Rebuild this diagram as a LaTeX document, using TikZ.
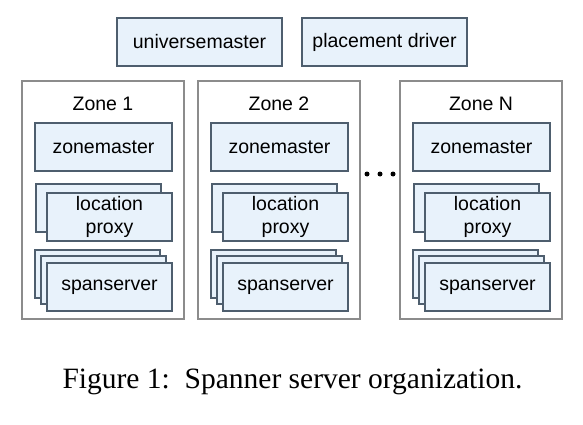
\documentclass[tikz,border=0pt]{standalone}
\usepackage{fontspec}
\setmainfont{Liberation Serif}
\newfontfamily\boxfont{Liberation Sans}
\definecolor{boxfill}{RGB}{232,242,251}
\definecolor{boxline}{RGB}{78,94,110}
\definecolor{zoneline}{RGB}{140,140,140}
\begin{document}
\begin{tikzpicture}[x=1pt,y=1pt,
  box/.style={draw=boxline,fill=boxfill,line width=1.3pt,minimum height=48pt,inner sep=0pt,
    align=center,font=\boxfont\fontsize{19.5}{23}\selectfont},
  wide/.style={box,minimum width=137pt},
  card/.style={box,minimum width=125pt},
  zone/.style={draw=zoneline,line width=1.5pt,minimum width=162pt,minimum height=238pt,inner sep=0pt},
  zonelabel/.style={font=\boxfont\fontsize{19.5}{23}\selectfont},
  dot/.style={circle,fill=black,inner sep=0pt,minimum size=5pt}]
\useasboundingbox (0,0) rectangle (583,424);
\fill[white] (0,0) rectangle (583,424);
% top
\node[box,minimum width=165pt] (um) at (199.5,382) {universemaster};
\node[box,minimum width=165pt] (pd) at (384.5,382) {placement driver};
% Zone 1
\node[zone] (zone1) at (103,224) {};
\node[zonelabel] (zl1) at (103,320) {Zone 1};
\node[wide] (zm1) at (103.5,277) {zonemaster};
\node[card] (lpb1) at (98.5,216) {};
\node[card] (lp1) at (109.5,207) {location\\proxy};
\node[card] (ssb1) at (97.5,150) {};
\node[card] (ssm1) at (103.5,144) {};
\node[card] (ss1) at (109.5,137) {spanserver};
% Zone 2
\node[zone] (zone2) at (279,224) {};
\node[zonelabel] (zl2) at (279,320) {Zone 2};
\node[wide] (zm2) at (279.5,277) {zonemaster};
\node[card] (lpb2) at (274.5,216) {};
\node[card] (lp2) at (285.5,207) {location\\proxy};
\node[card] (ssb2) at (273.5,150) {};
\node[card] (ssm2) at (279.5,144) {};
\node[card] (ss2) at (285.5,137) {spanserver};
% Zone N
\node[zone] (zoneN) at (481,224) {};
\node[zonelabel] (zlN) at (481,320) {Zone N};
\node[wide] (zmN) at (481.5,277) {zonemaster};
\node[card] (lpbN) at (476.5,216) {};
\node[card] (lpN) at (487.5,207) {location\\proxy};
\node[card] (ssbN) at (475.5,150) {};
\node[card] (ssmN) at (481.5,144) {};
\node[card] (ssN) at (487.5,137) {spanserver};
% dots
\node[dot] (dota) at (367,250) {};
\node[dot] (dotb) at (380,250) {};
\node[dot] (dotc) at (393,250) {};
% caption
\node[anchor=base,font=\fontsize{29.5}{33}\selectfont,inner sep=0pt] (cap) at (292.5,36)
  {Figure 1:\hspace{0.5em}Spanner server organization.};
\end{tikzpicture}
\end{document}
